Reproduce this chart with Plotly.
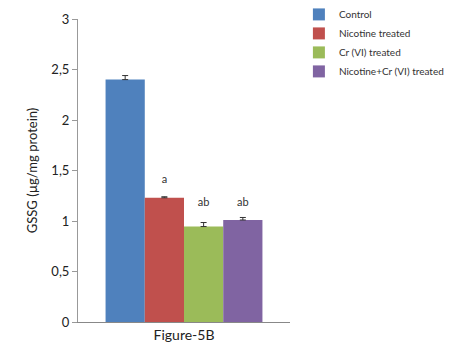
import plotly.graph_objects as go

category = ["Figure-5B"]
groups = ["Control", "Nicotine treated", "Cr (VI) treated", "Nicotine+Cr (VI) treated"]
values = [2.40, 1.23, 0.945, 1.01]
errors = [0.04, 0.01, 0.04, 0.025]
sig_labels = ["", "a", "ab", "ab"]
label_y = [None, 1.40, 1.18, 1.18]
colors = ["#4F81BD", "#C0504D", "#9BBB59", "#8064A2"]
ytick_vals = [0, 0.5, 1, 1.5, 2, 2.5, 3]

fig = go.Figure()
for i, g in enumerate(groups):
    fig.add_trace(go.Bar(
        x=category, y=[values[i]], name=g, marker_color=colors[i],
        marker_line_width=0, offsetgroup=str(i),
        error_y=dict(type="data", array=[errors[i]], symmetric=False,
                     arrayminus=[0], color="#333333", thickness=1, width=3),
    ))
for i, g in enumerate(groups):
    fig.add_trace(go.Scatter(
        x=category, y=[label_y[i] if label_y[i] is not None else 0],
        mode="text", text=[sig_labels[i]], offsetgroup=str(i),
        textfont=dict(size=11, color="#333333", family="Lato"),
        showlegend=False, hoverinfo="skip",
    ))

fig.update_layout(
    width=466, height=363,
    margin=dict(l=78, r=176, t=19, b=41, autoexpand=False),
    barmode="group", scattermode="group", bargap=0.26, bargroupgap=0,
    plot_bgcolor="white", paper_bgcolor="white",
    separators=",.",
    font=dict(family="Lato", color="#333333"),
    legend=dict(x=1.042, y=1.063, xanchor="left", yanchor="top",
                font=dict(size=10, color="#333333"), tracegroupgap=0,
                itemwidth=30, bgcolor="rgba(0,0,0,0)"),
    showlegend=True,
)
fig.update_xaxes(showline=True, linecolor="#888888", linewidth=1,
                 ticks="", tickfont=dict(size=14, color="#222222"),
                 showgrid=False)
fig.update_yaxes(range=[0, 3], tickvals=ytick_vals, showline=True,
                 linecolor="#999999", linewidth=1, ticks="outside",
                 ticklen=5, tickcolor="#999999", showgrid=False,
                 zeroline=False, tickfont=dict(size=13, color="#222222"),
                 title=dict(text="GSSG (µg/mg protein)",
                            font=dict(size=13, color="#222222"), standoff=10))

fig.write_html("out.html", config={"displayModeBar": False},
               post_script="document.body.style.margin='0';")
